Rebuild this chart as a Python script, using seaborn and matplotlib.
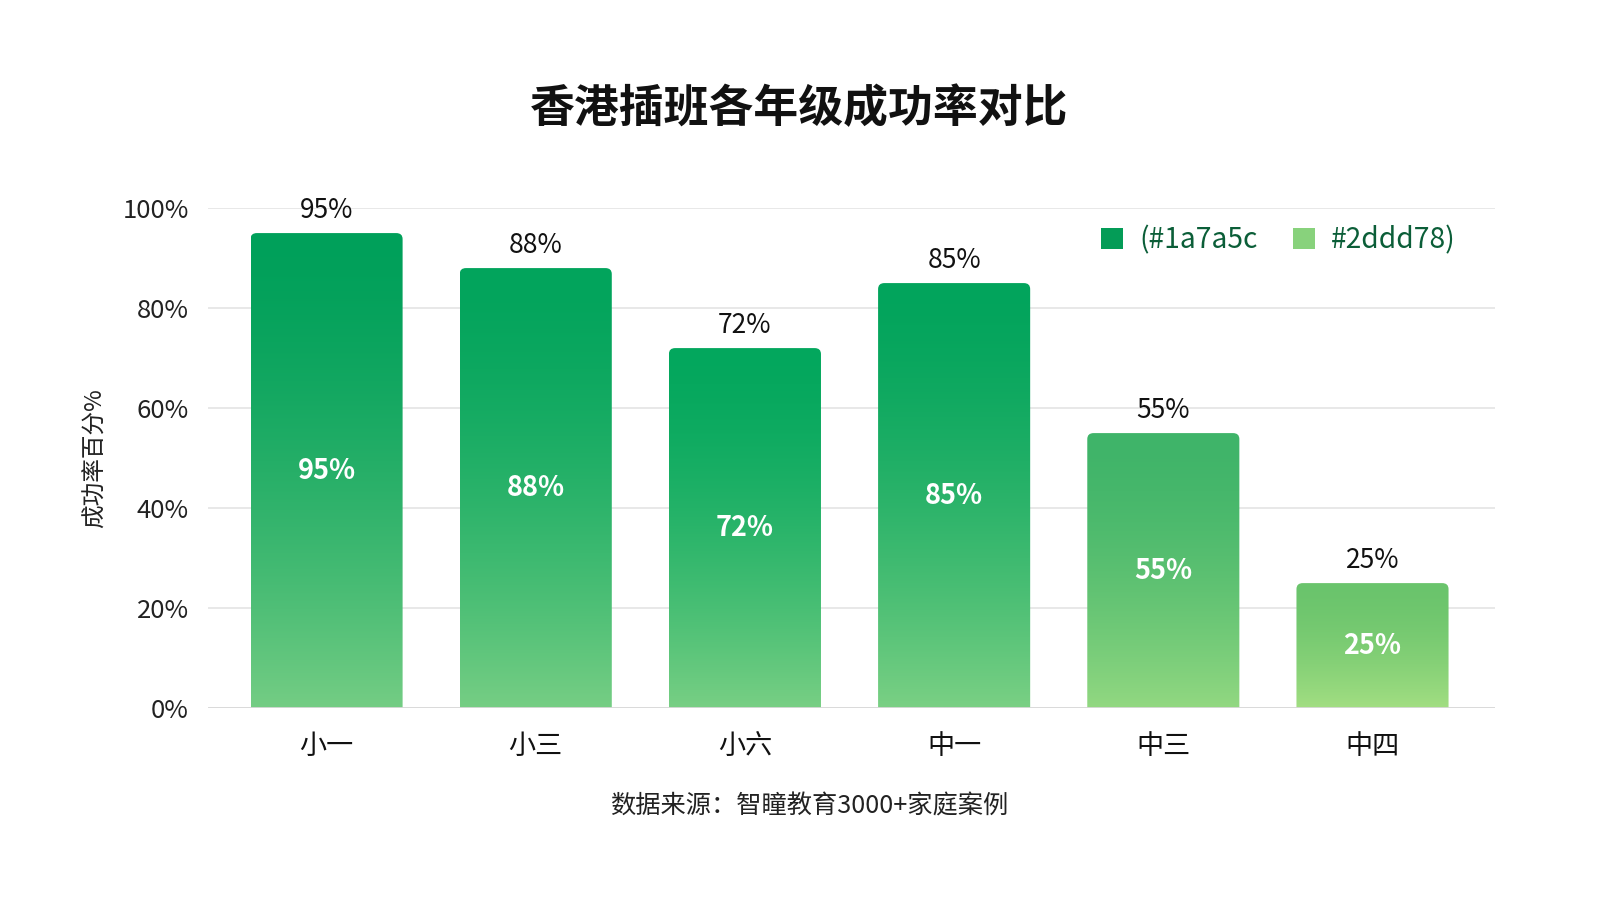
import numpy as np
import pandas as pd
import matplotlib
matplotlib.use("Agg")
import matplotlib.pyplot as plt
import seaborn as sns
from matplotlib.patches import FancyBboxPatch, Patch
from matplotlib.colors import to_rgb

# ---- data ----
grades = ["小一", "小三", "小六", "中一", "中三", "中四"]
success_rate = [95, 88, 72, 85, 55, 25]
yticks = [0, 20, 40, 60, 80, 100]
legend_labels = ["(#1a7a5c", "#2ddd78)"]

title = "香港插班各年级成功率对比"
ylabel = "成功率百分%"
source = "数据来源：智瞳教育3000+家庭案例"

# ---- styles ----
top_colors = ["#00a05a", "#02a45c", "#03a75d", "#02a45c", "#3fb469", "#6ac46c"]
bottom_colors = ["#74cd84", "#76ce84", "#78cf84", "#7ad084", "#92d881", "#a2de82"]

df = pd.DataFrame({"grade": grades, "rate": success_rate})

sns.set_theme(style="white")
plt.rcParams["font.family"] = ["Noto Sans CJK SC", "DejaVu Sans"]

fig = plt.figure(figsize=(16, 9), dpi=100, facecolor="white")
ax = fig.add_axes([0.1301, 0.2132, 0.8042, 0.5556])
ax.set_facecolor("white")

sns.barplot(data=df, x="grade", y="rate", ax=ax, width=0.727,
            color="#1aa862", saturation=1, zorder=2)

x0, x1 = -0.566, 5.585
ax.set_ylim(0, 100)
ax.set_xlim(x0, x1)
ax.set_yticks(yticks)
ax.set_yticklabels([f"{v}%" for v in yticks], fontsize=18.5, color="#222222")
ax.tick_params(axis="x", labelsize=19.5, colors="#111111", length=0, pad=18)
ax.tick_params(axis="y", length=0, pad=14)
ax.set_xlabel("")
ax.set_ylabel(ylabel, fontsize=17, color="#222222", labelpad=11)
for s in ax.spines.values():
    s.set_visible(False)
ax.grid(axis="y", color="#e6e6e6", linewidth=1.3, zorder=0)
ax.grid(axis="x", visible=False)
ax.axhline(0, color="#d9d9d9", linewidth=2, zorder=3)

ny = 256
t = np.linspace(0, 1, ny)[:, None]          # 0 at top, 1 at bottom
prof = t ** 1.6

for i, p in enumerate(list(ax.patches)):
    bx, bw, bh = p.get_x(), p.get_width(), p.get_height()
    p.set_visible(False)
    rp = FancyBboxPatch((bx, -3), bw, bh + 3,
                        boxstyle="round,pad=0,rounding_size=0.03",
                        mutation_aspect=40, facecolor="none",
                        edgecolor="none", transform=ax.transData)
    ax.add_patch(rp)
    c0 = np.array(to_rgb(top_colors[i]))
    c1 = np.array(to_rgb(bottom_colors[i]))
    col = c0[None, :] * (1 - prof) + c1[None, :] * prof
    img = np.repeat(col[:, None, :], 4, axis=1)
    im = ax.imshow(img, extent=(bx, bx + bw, 0, bh), aspect="auto",
                   zorder=2, interpolation="bilinear")
    im.set_clip_path(rp)

ax.set_xlim(x0, x1)
ax.set_ylim(0, 100)

for i, v in enumerate(success_rate):
    ax.text(i, v + 1.8, f"{v}%", ha="center", va="bottom",
            fontsize=19, color="#111111", zorder=5)
    ax.text(i, v / 2, f"{v}%", ha="center", va="center",
            fontsize=19.5, fontweight="bold", color="white", zorder=5)

fig.text(0.4994, 0.8787, title, ha="center", va="center",
         fontsize=32.3, fontweight="bold", color="#111111")
fig.text(0.5057, 0.1043, source, ha="center", va="center",
         fontsize=18.2, color="#222222")

handles = [Patch(facecolor="#049c57", edgecolor="none"),
           Patch(facecolor="#88d27c", edgecolor="none")]
leg = fig.legend(handles, legend_labels, loc="upper right",
                 bbox_to_anchor=(0.9255, 0.778), ncol=2, frameon=False,
                 fontsize=20.3, handlelength=0.8, handleheight=0.8,
                 columnspacing=1.25, handletextpad=0.55)
for t_ in leg.get_texts():
    t_.set_color("#0b5e38")

fig.savefig("out.png", dpi=100, facecolor="white")
